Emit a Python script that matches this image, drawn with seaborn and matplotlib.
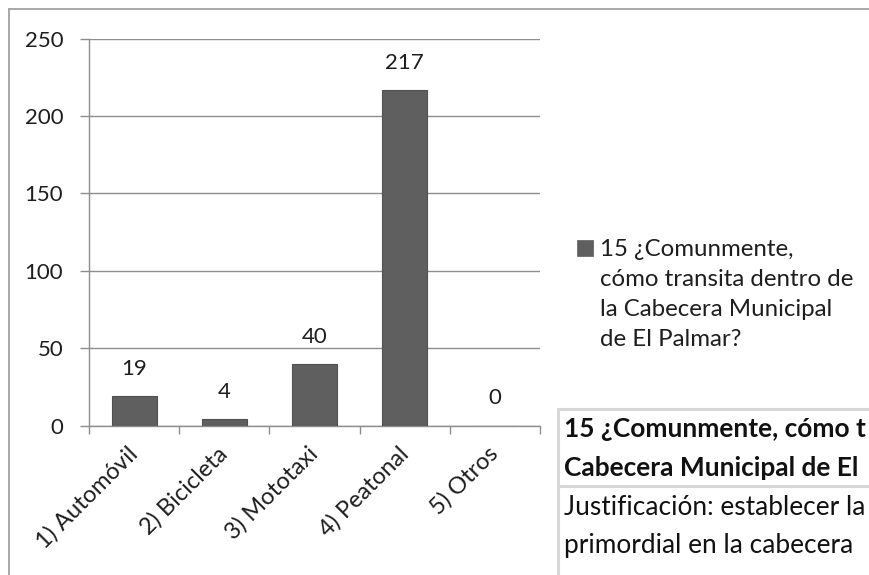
import matplotlib
matplotlib.use("Agg")
import matplotlib.pyplot as plt
import seaborn as sns
import pandas as pd
from matplotlib.patches import Rectangle
from matplotlib.lines import Line2D

categories = ["1) Automóvil", "2) Bicicleta", "3) Mototaxi", "4) Peatonal", "5) Otros"]
values = [19, 4, 40, 217, 0]
yticks = [0, 50, 100, 150, 200, 250]
series_name = "15 ¿Comunmente, cómo transita dentro de la Cabecera Municipal de El Palmar?"
legend_lines = ["15 ¿Comunmente,", "cómo transita dentro de", "la Cabecera Municipal", "de El Palmar?"]
table_header = ["15 ¿Comunmente, cómo t", "Cabecera Municipal de El"]
table_body = ["Justificación: establecer la", "primordial en la cabecera"]

sns.set_style("white")
plt.rcParams["font.family"] = ["Lato", "DejaVu Sans"]

W, H = 869, 575
fig = plt.figure(figsize=(W / 100, H / 100), dpi=100)
renderer = fig.canvas.get_renderer()


def fy(py):
    return 1 - py / H


def fit_size(text, weight, target_px, base=20.0):
    t = fig.text(0, 0, text, fontsize=base, fontweight=weight)
    w = t.get_window_extent(renderer).width
    t.remove()
    return base * target_px / w


ax = fig.add_axes([89 / W, fy(425.5), (540 - 89) / W, (425.5 - 38.8) / H])

bar_color = "#5f5f5f"
grid_color = "#8e8e8e"
txt_color = "#1e1e1e"
df = pd.DataFrame({"cat": categories, "val": values})
sns.barplot(data=df, x="cat", y="val", color=bar_color, width=0.5,
            edgecolor="#505050", linewidth=0.8, saturation=1, ax=ax, zorder=3)

ax.set_ylim(0, 250)
ax.set_xlim(-0.5, len(categories) - 0.5)
ax.set_yticks(yticks)
ax.set_yticklabels([str(t) for t in yticks], fontsize=16, color=txt_color)
ax.yaxis.grid(True, color=grid_color, linewidth=1.0, zorder=0)
ax.xaxis.grid(False)
ax.set_axisbelow(True)
ax.set_xlabel("")
ax.set_ylabel("")
for s in ["top", "right"]:
    ax.spines[s].set_visible(False)
for s in ["left", "bottom"]:
    ax.spines[s].set_color(grid_color)
    ax.spines[s].set_linewidth(1.0)
ax.tick_params(axis="y", which="major", length=6.5, width=1.0, color=grid_color,
               direction="out", left=True, pad=12)

# category boundary ticks
ax.set_xticks([i - 0.5 for i in range(len(categories) + 1)], minor=True)
ax.tick_params(axis="x", which="minor", length=6, width=1.0, color=grid_color,
               direction="out", bottom=True)
ax.set_xticks(range(len(categories)))
ax.tick_params(axis="x", which="major", length=0, pad=18)
ax.set_xticklabels(categories, rotation=45, ha="right", va="center", rotation_mode="anchor",
                   fontsize=17, color=txt_color)

for i, v in enumerate(values):
    ax.annotate(str(v), (i, v), xytext=(0, 19.5), textcoords="offset points",
                ha="center", va="center", fontsize=16, color=txt_color)

# chart outer border
fig.add_artist(Line2D([8.5 / W, 8.5 / W], [0, fy(9)], color="#9a9a9a", linewidth=1.2))
fig.add_artist(Line2D([8.5 / W, 1.0], [fy(9), fy(9)], color="#9a9a9a", linewidth=1.2))

# legend (manual, Excel-style with handle aligned to first line)
fig.add_artist(Rectangle((577 / W, fy(256)), 16 / W, 16 / H, facecolor=bar_color,
                         edgecolor="#6a6a6a", linewidth=0.6))
leg_size = fit_size(legend_lines[1], "normal", 253)
for k, line in enumerate(legend_lines):
    fig.text(600 / W, fy(256 + 30 * k), line, fontsize=leg_size, color=txt_color,
             ha="left", va="baseline")

# table fragment
fig.add_artist(Rectangle((558 / W, 0), 1 - 558 / W, fy(409), facecolor="white",
                         edgecolor="none", zorder=5))
tbl_color = "#d6d6d6"
fig.add_artist(Line2D([558 / W, 1.0], [fy(409), fy(409)], color=tbl_color, linewidth=2.2, zorder=6))
fig.add_artist(Line2D([558 / W, 558 / W], [0, fy(409)], color=tbl_color, linewidth=2.2, zorder=6))
fig.add_artist(Line2D([558 / W, 1.0], [fy(486), fy(486)], color=tbl_color, linewidth=2.2, zorder=6))

hdr_size = min(fit_size(table_header[0], "bold", 864 - 564),
               fit_size(table_header[1], "bold", 863 - 564))
body_size = min(fit_size(table_body[0], "normal", 865 - 564),
                fit_size(table_body[1], "normal", 865 - 564))
for y, t in zip([437, 476], table_header):
    fig.text(564 / W, fy(y), t, fontsize=hdr_size, fontweight="bold", color="#111111",
             ha="left", va="baseline", zorder=7)
for y, t in zip([515, 553], table_body):
    fig.text(564 / W, fy(y), t, fontsize=body_size, color="#111111",
             ha="left", va="baseline", zorder=7)

fig.savefig("out.png", dpi=100)
